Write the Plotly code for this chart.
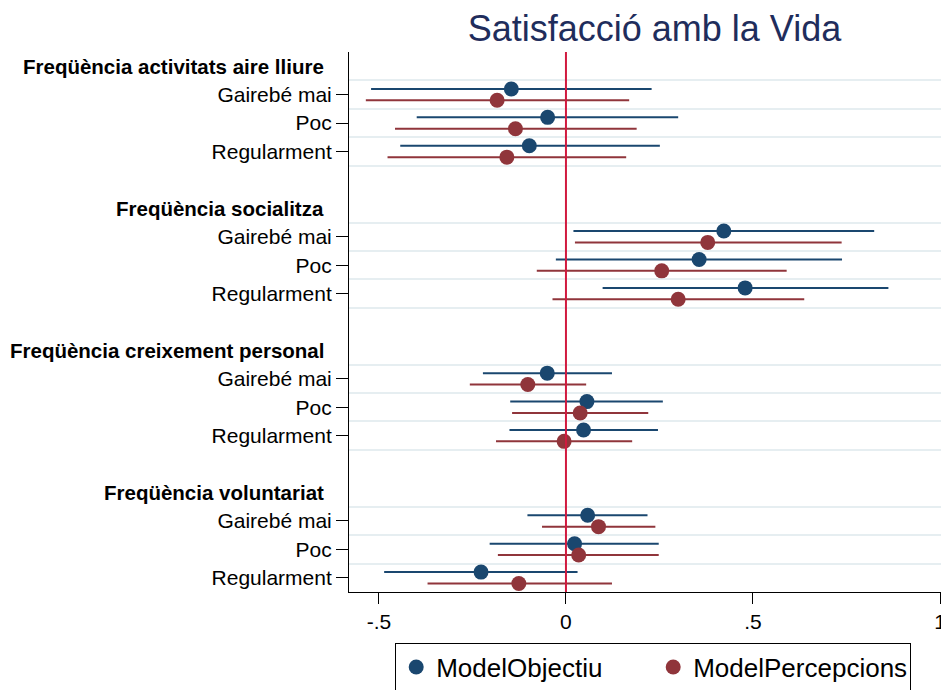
import plotly.graph_objects as go

# --- Dades (llegides del gràfic) ---
grups = [
    "Freqüència activitats aire lliure",
    "Freqüència socialitza",
    "Freqüència creixement personal",
    "Freqüència voluntariat",
]
nivells = ["Gairebé mai", "Poc", "Regularment"]

# ModelObjectiu: coeficient, límit inferior, límit superior (per grup x nivell)
obj_coef = [-0.146, -0.049, -0.098,
            0.422, 0.356, 0.479,
            -0.050, 0.056, 0.047,
            0.058, 0.023, -0.227]
obj_lo = [-0.521, -0.399, -0.443,
          0.020, -0.027, 0.098,
          -0.222, -0.149, -0.151,
          -0.103, -0.204, -0.486]
obj_hi = [0.229, 0.300, 0.251,
          0.824, 0.738, 0.862,
          0.123, 0.259, 0.246,
          0.218, 0.248, 0.031]

# ModelPercepcions
per_coef = [-0.184, -0.135, -0.158,
            0.379, 0.256, 0.300,
            -0.102, 0.038, -0.005,
            0.087, 0.034, -0.126]
per_lo = [-0.535, -0.457, -0.477,
          0.024, -0.078, -0.036,
          -0.257, -0.144, -0.187,
          -0.064, -0.182, -0.370]
per_hi = [0.169, 0.189, 0.161,
          0.737, 0.590, 0.637,
          0.054, 0.220, 0.177,
          0.239, 0.248, 0.123]

x_ticks = [-0.5, 0, 0.5, 1]
x_ticktext = ["-.5", "0", ".5", "1"]

BLAU = "#1a476f"
GRANAT = "#90353b"
FONT = "Liberation Sans, Arial, sans-serif"

# --- posicions de fila: capçalera + 3 nivells + fila buida ---
fila_cap = []
fila_item = []
etiquetes = []
pos = 0
for g in grups:
    fila_cap.append(pos)
    for n in nivells:
        pos += 1
        fila_item.append(pos)
        etiquetes.append(n)
    pos += 2
ultima = fila_item[-1]

desp = 0.2  # desplaçament vertical de cada model

fig = go.Figure()

models = [
    ("ModelObjectiu", obj_coef, obj_lo, obj_hi, BLAU, -desp),
    ("ModelPercepcions", per_coef, per_lo, per_hi, GRANAT, desp),
]
for nom, coef, lo, hi, color, d in models:
    fig.add_trace(go.Scatter(
        x=coef,
        y=[f + d for f in fila_item],
        mode="markers",
        name=nom,
        marker=dict(color=color, size=15, line=dict(width=0)),
        error_x=dict(
            type="data",
            symmetric=False,
            array=[h - c for h, c in zip(hi, coef)],
            arrayminus=[c - l for c, l in zip(coef, lo)],
            color=color,
            thickness=2,
            width=0,
        ),
    ))

# línia de referència a zero
fig.add_shape(type="line", xref="x", yref="paper", x0=0, x1=0, y0=0, y1=1,
              line=dict(color="#d11a3f", width=2), layer="above")

# capçaleres dels grups
for g, f in zip(grups, fila_cap):
    fig.add_annotation(
        x=0, xref="paper", y=f, yref="y", text=f"<b>{g}</b>",
        showarrow=False, xanchor="right", yanchor="middle", xshift=-23,
        font=dict(family=FONT, size=20.5, color="black"),
    )

graella = []
for f in fila_item:
    graella += [f - 0.5, f + 0.5]
graella = sorted(set(graella))

# la pàgina té 8px de marge al body: la figura es fa 8px més petita
fig.update_layout(
    width=941,
    height=682,
    margin=dict(l=341, r=0, t=44, b=98, autoexpand=False),
    paper_bgcolor="white",
    plot_bgcolor="white",
    font=dict(family=FONT, size=21, color="black"),
    title=dict(
        text="Satisfacció amb la Vida",
        x=0.687, xanchor="center",
        y=1 - 20 / 682, yanchor="middle",
        font=dict(family=FONT, size=36, color="#1f2d5c"),
    ),
    showlegend=True,
    legend=dict(
        orientation="h",
        x=0.507, xanchor="center",
        y=-0.0936, yanchor="top",
        bordercolor="black", borderwidth=1,
        font=dict(family=FONT, size=26, color="black"),
        itemwidth=30,
        entrywidth=212,
    ),
    xaxis=dict(
        range=[-0.58, 1.024],
        tickvals=x_ticks,
        ticktext=x_ticktext,
        showgrid=False,
        zeroline=False,
        showline=True,
        linecolor="black",
        linewidth=1,
        ticks="outside",
        ticklen=11,
        tickcolor="black",
        tickfont=dict(size=21),
        automargin=False,
    ),
    yaxis=dict(
        range=[ultima + 0.5, -0.5],
        tickvals=fila_item,
        ticktext=etiquetes,
        showgrid=False,
        zeroline=False,
        showline=True,
        linecolor="black",
        linewidth=1,
        ticks="outside",
        ticklen=12,
        tickcolor="black",
        tickfont=dict(size=21),
        automargin=False,
        minor=dict(
            tickvals=graella,
            showgrid=True,
            gridcolor="#e6eef1",
            gridwidth=2,
            ticks="",
        ),
    ),
)

fig.write_html("out.html")
